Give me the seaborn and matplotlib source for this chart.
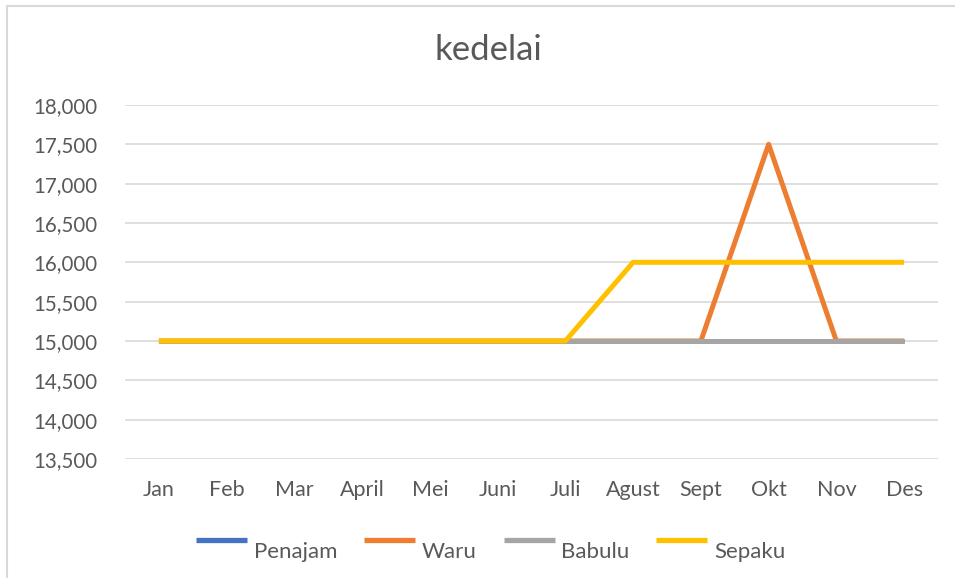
import pandas as pd
import matplotlib.pyplot as plt
import seaborn as sns
from matplotlib.lines import Line2D
from matplotlib.legend_handler import HandlerLine2D
from matplotlib.ticker import FuncFormatter

# --- data ---
bulan = ["Jan", "Feb", "Mar", "April", "Mei", "Juni", "Juli", "Agust", "Sept", "Okt", "Nov", "Des"]
penajam = [15000, 15000, 15000, 15000, 15000, 15000, 15000, 15000, 15000, 15000, 15000, 15000]
waru = [15000, 15000, 15000, 15000, 15000, 15000, 15000, 15000, 15000, 17500, 15000, 15000]
babulu = [15000, 15000, 15000, 15000, 15000, 15000, 15000, 15000, 15000, 15000, 15000, 15000]
sepaku = [15000, 15000, 15000, 15000, 15000, 15000, 15000, 16000, 16000, 16000, 16000, 16000]

series = {"Penajam": penajam, "Waru": waru, "Babulu": babulu, "Sepaku": sepaku}
colors = {"Penajam": "#4472C4", "Waru": "#ED7D31", "Babulu": "#A5A5A5", "Sepaku": "#FFC000"}

rows = []
for name, vals in series.items():
    for i, v in enumerate(vals):
        rows.append({"bulan": i, "harga": v, "lokasi": name})
df = pd.DataFrame(rows)


# legend line sits a bit higher than the text, like Excel
class RaisedLine(HandlerLine2D):
    def create_artists(self, legend, orig_handle, xdescent, ydescent,
                       width, height, fontsize, trans):
        arts = super().create_artists(legend, orig_handle, xdescent, ydescent,
                                      width, height, fontsize, trans)
        for a in arts:
            a.set_ydata([y + 0.45 * fontsize for y in a.get_ydata()])
            a.set_solid_capstyle("butt")
        return arts


sns.set_theme(style="white")
plt.rcParams["font.family"] = ["Lato", "DejaVu Sans"]
text_col = "#595959"

fig = plt.figure(figsize=(9.55, 5.78), dpi=100)
ax = fig.add_axes([0.1309, 0.2059, 0.8513, 0.6125])

sns.lineplot(data=df, x="bulan", y="harga", hue="lokasi", palette=colors,
             hue_order=list(series.keys()), linewidth=3.6, ax=ax,
             legend=False, solid_capstyle="butt", zorder=3)

ax.set_xlim(-0.5, 11.5)
ax.set_ylim(13500, 18000)
ax.set_yticks(range(13500, 18001, 500))
ax.yaxis.set_major_formatter(FuncFormatter(lambda v, p: f"{int(v):,}"))
ax.set_xticks(range(len(bulan)))
ax.set_xticklabels(bulan)
ax.grid(axis="y", color="#D9D9D9", linewidth=1.2, zorder=0)
ax.grid(axis="x", visible=False)
for s in ax.spines.values():
    s.set_visible(False)
ax.tick_params(axis="y", length=0, pad=20, labelsize=14.8, labelcolor=text_col)
ax.tick_params(axis="x", length=0, pad=15, labelsize=15.5, labelcolor=text_col)
ax.set_xlabel("")
ax.set_ylabel("")

fig.text(0.511, 1 - 50 / 578, "kedelai", ha="center", va="center", fontsize=25, color=text_col)

handles = [Line2D([0], [0], color=colors[n], linewidth=3.8) for n in series]
leg = fig.legend(handles, list(series.keys()), loc="center", bbox_to_anchor=(0.514, 1 - 552 / 578),
                 ncol=4, frameon=False, fontsize=16, handlelength=2.3,
                 columnspacing=1.2, handletextpad=0.3,
                 handler_map={Line2D: RaisedLine()})
for t in leg.get_texts():
    t.set_color(text_col)

# chart border (partially cropped in the original)
fig.add_artist(Line2D([6.5 / 955, 6.5 / 955], [0, 1 - 6 / 578], color="#D9D9D9", linewidth=1.5,
                      transform=fig.transFigure))
fig.add_artist(Line2D([6.5 / 955, 1], [1 - 6 / 578, 1 - 6 / 578], color="#D9D9D9", linewidth=1.5,
                      transform=fig.transFigure))

fig.savefig("out.png", dpi=100)
